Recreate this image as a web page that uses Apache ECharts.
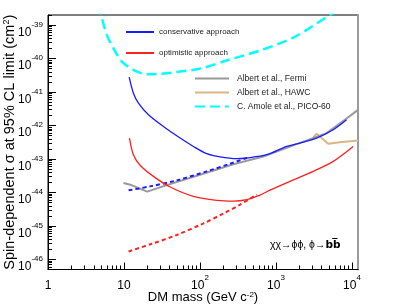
<!DOCTYPE html>
<html><head><meta charset="utf-8">
<script src="https://cdn.jsdelivr.net/npm/echarts@6/dist/echarts.min.js"></script>
<style>html,body{margin:0;padding:0;background:#fff}#c{width:399px;height:308px}</style>
</head><body><div id="c"></div>
<script>
// ---- data (DM mass in GeV, cross section in cm^2) ----
const massPico  = [4.6, 5.96, 7.28, 9.38, 13.3, 20.0, 28.1, 42.6, 105.6, 234, 649, 1778, 5129, 7000];
const sigmaPico = [4e-39, 5.03e-40, 2.02e-40, 8.07e-41, 4.57e-41, 3.40e-41, 3.47e-41, 3.79e-41, 5.13e-41, 9.06e-41, 1.80e-40, 4.48e-40, 2.0e-39, 3e-39];

const massCons  = [11.7, 13.3, 15.5, 21.0, 33.0, 54.8, 81.9, 123, 184, 305, 412, 755, 1383, 2067, 3428, 5662, 8490];
const sigmaCons = [2.77e-41, 9.23e-42, 4.65e-42, 2.09e-42, 9.35e-43, 4.22e-43, 2.37e-43, 1.44e-43, 1.15e-43, 1.02e-43, 1.07e-43, 1.34e-43, 2.37e-43, 2.99e-43, 4.22e-43, 7.45e-43, 1.48e-42];

const massConsLow  = [11.5, 22.1, 49.5, 123, 249, 412];
const sigmaConsLow = [1.16e-44, 1.52e-44, 2.30e-44, 4.27e-44, 7.23e-44, 1.07e-43];

const massOpt  = [11.8, 13.3, 16.3, 24.4, 40.5, 81.9, 166, 275, 412, 616, 834, 1528, 3091, 5662, 10370];
const sigmaOpt = [4.22e-43, 1.34e-43, 6.53e-44, 3.03e-44, 1.46e-44, 7.67e-45, 5.83e-45, 5.52e-45, 6.12e-45, 8.34e-45, 1.17e-44, 2.15e-44, 4.27e-44, 8.47e-44, 2.37e-43];

const massOptLow  = [11.5, 22.8, 49.5, 110, 203, 337, 557];
const sigmaOptLow = [1.73e-46, 2.89e-46, 5.36e-46, 1.18e-45, 2.34e-45, 4.35e-45, 8.63e-45];

const massFermi  = [9.85, 12.1, 20.2, 36.6, 100, 275, 681, 1870, 4637, 8070, 12000];
const sigmaFermi = [1.92e-44, 1.71e-44, 1.06e-44, 1.66e-44, 3.40e-44, 7.00e-44, 1.19e-43, 2.79e-43, 5.94e-43, 1.48e-42, 2.94e-42];

const massHawc  = [3100, 3428, 4866, 6934, 12000];
const sigmaHawc = [4.5e-43, 5.7e-43, 2.85e-43, 3.16e-43, 3.57e-43];

// ---- axis ticks ----
const xMajorTicks = [1, 10, 100, 1000, 10000];
const yMajorTicks = [1e-46, 1e-45, 1e-44, 1e-43, 1e-42, 1e-41, 1e-40, 1e-39];
const minorMultipliers = [2, 3, 4, 5, 6, 7, 8, 9];
const xMinorExponents = [0, 1, 2, 3];
const yMinorExponents = [-47, -46, -45, -44, -43, -42, -41, -40, -39];

const X_MIN = 1, X_MAX = 12000, Y_MIN = 5e-47, Y_MAX = 2e-39;

function minorTicks(exps, lo, hi) {
  const out = [];
  exps.forEach(e => minorMultipliers.forEach(m => {
    const v = Number(m + 'e' + e);
    if (v >= lo * 0.999 && v <= hi * 1.001) out.push(v);
  }));
  return out;
}
const xMinorTicks = minorTicks(xMinorExponents, X_MIN, X_MAX);
const yMinorTicks = minorTicks(yMinorExponents, Y_MIN, Y_MAX);

// The y axis is a linear value axis on log10(sigma) (the library's log scale
// cannot handle values ~1e-46), labelled as powers of ten.
const lg = Math.log10;
const FONT = 'Liberation Sans';
const pair = (xs, ys) => xs.map((x, i) => [x, lg(ys[i])]);

const labelRich = {
  b: {fontSize: 12, fontFamily: FONT, color: '#000', lineHeight: 18, verticalAlign: 'bottom'},
  s: {fontSize: 8, fontFamily: FONT, color: '#000', lineHeight: 8, verticalAlign: 'top'}
};

const chart = echarts.init(document.getElementById('c'), null, {renderer: 'canvas'});

function lineSeries(name, data, color, width, type, smooth, z) {
  return {
    name, type: 'line', data, xAxisIndex: 0, yAxisIndex: 0,
    symbol: 'none', smooth: smooth, clip: true, z: z,
    lineStyle: {color, width, type},
    itemStyle: {color},
    emphasis: {disabled: true}
  };
}

chart.setOption({
  animation: false,
  backgroundColor: '#fff',
  grid: {left: 48, right: 41, top: 15, bottom: 38.5, outerBoundsMode: 'none', containLabel: false,
         show: true, borderColor: '#000', borderWidth: 1, backgroundColor: 'transparent'},
  legend: [
    {
      data: ['conservative approach', 'optimistic approach'],
      orient: 'vertical', left: 125, top: 28, padding: 0, itemGap: 13,
      itemWidth: 28, itemHeight: 10, selectedMode: false, itemStyle: {opacity: 0},
      textStyle: {fontFamily: FONT, fontSize: 8, color: '#222'}
    },
    {
      data: ['Albert et al., Fermi', 'Albert et al., HAWC', 'C. Amole et al., PICO-60'],
      orient: 'vertical', left: 194, top: 74, padding: 0, itemGap: 5,
      itemWidth: 34, itemHeight: 10, selectedMode: false, itemStyle: {opacity: 0},
      textStyle: {fontFamily: FONT, fontSize: 8.5, color: '#222', padding: [0, 0, 0, 3]}
    }
  ],
  xAxis: [
    {
      type: 'log', logBase: 10, min: X_MIN, max: X_MAX, position: 'bottom',
      axisLine: {show: true, lineStyle: {color: '#000', width: 1}},
      axisTick: {show: true, inside: true, length: 7, customValues: xMajorTicks, lineStyle: {color: '#000', width: 1}},
      axisLabel: {
        show: true, customValues: xMajorTicks, margin: 4.5, rich: labelRich,
        formatter: v => (v < 50 ? '{b|' + Math.round(v) + '}' : '{b|10}{s|' + Math.round(lg(v)) + '}')
      },
      splitLine: {show: false}, minorTick: {show: false},
      name: 'DM mass (GeV c{s|-2})', nameLocation: 'middle', nameGap: 21, nameMoveOverlap: false,
      nameTextStyle: {fontFamily: FONT, fontSize: 13, color: '#000',
        rich: {s: {fontSize: 8, fontFamily: FONT, color: '#000', verticalAlign: 'top', lineHeight: 10}}}
    },
    {
      type: 'log', logBase: 10, min: X_MIN, max: X_MAX, position: 'bottom',
      axisLine: {show: false},
      axisTick: {show: true, inside: true, length: 4, customValues: xMinorTicks, lineStyle: {color: '#000', width: 1}},
      axisLabel: {show: false}, splitLine: {show: false}
    }
  ],
  yAxis: [
    {
      type: 'value', min: lg(Y_MIN), max: lg(Y_MAX), position: 'left',
      axisLine: {show: true, lineStyle: {color: '#000', width: 1}},
      axisTick: {show: true, inside: true, length: 8, customValues: yMajorTicks.map(lg), lineStyle: {color: '#000', width: 1}},
      axisLabel: {
        show: true, customValues: yMajorTicks.map(lg), margin: 5, rich: labelRich, padding: [9, 0, 0, 0],
        formatter: v => '{b|10}{s|' + Math.round(v) + '}'
      },
      splitLine: {show: false}, minorTick: {show: false},
      name: 'Spin-dependent σ at 95% CL limit (cm{s|2})', nameLocation: 'middle', nameGap: 31, nameMoveOverlap: false,
      nameTextStyle: {fontFamily: FONT, fontSize: 14.5, color: '#000',
        rich: {s: {fontSize: 9, fontFamily: FONT, color: '#000', verticalAlign: 'top', lineHeight: 11}}}
    },
    {
      type: 'value', min: lg(Y_MIN), max: lg(Y_MAX), position: 'left',
      axisLine: {show: false},
      axisTick: {show: true, inside: true, length: 4, customValues: yMinorTicks.map(lg), lineStyle: {color: '#000', width: 1}},
      axisLabel: {show: false}, splitLine: {show: false}
    },
    {
      type: 'value', min: lg(Y_MIN), max: lg(Y_MAX), position: 'right',
      axisLine: {show: true, lineStyle: {color: '#9a9a9a', width: 2}},
      axisTick: {show: false}, axisLabel: {show: false}, splitLine: {show: false}
    }
  ],
  graphic: [{
    type: 'text', left: 270, top: 240, z: 100,
    style: {
      text: '{n|χχ→ϕϕ, ϕ→}{bb|bb\u0305}',
      rich: {
        n: {fontFamily: FONT, fontSize: 10.5, fill: '#000'},
        bb: {fontFamily: 'DejaVu Sans', fontSize: 10.5, fontWeight: 'bold', fill: '#000'}
      }
    }
  }],
  series: [
    lineSeries('C. Amole et al., PICO-60', pair(massPico, sigmaPico), '#00ffff', 2.5, [10, 5], 0.3, 2),
    lineSeries('Albert et al., HAWC', pair(massHawc, sigmaHawc), '#d9b585', 2, 'solid', false, 2),
    lineSeries('Albert et al., Fermi', pair(massFermi, sigmaFermi), '#999999', 2, 'solid', false, 3),
    lineSeries('conservative approach', pair(massCons, sigmaCons), '#1a1aff', 1.3, 'solid', 0.3, 4),
    lineSeries('conservative low', pair(massConsLow, sigmaConsLow), '#1a1aff', 2, [4, 3], 0.3, 4),
    lineSeries('optimistic approach', pair(massOpt, sigmaOpt), '#ff2020', 1.3, 'solid', 0.3, 4),
    lineSeries('optimistic low', pair(massOptLow, sigmaOptLow), '#ff2020', 2, [4, 3], 0.3, 4)
  ]
});
</script>
</body></html>
